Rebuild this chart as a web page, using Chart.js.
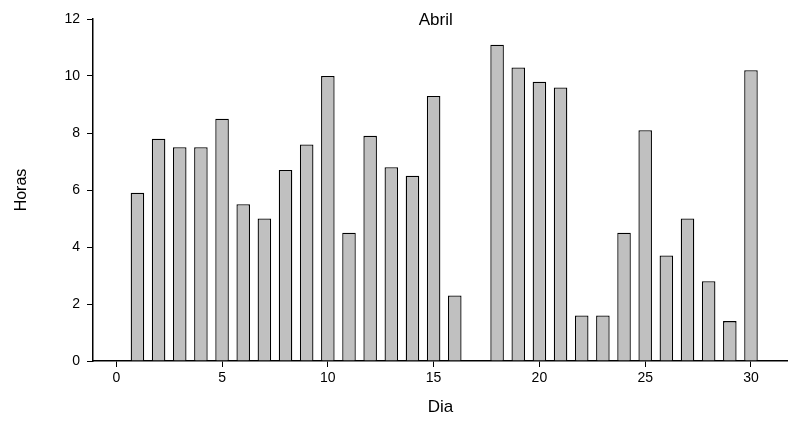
<!DOCTYPE html>
<html>
<head>
<meta charset="utf-8">
<script src="https://cdn.jsdelivr.net/npm/chart.js@4/dist/chart.umd.min.js"></script>
<style>
    html, body { margin: 0; padding: 0; background: #fff; }
    #wrap { width: 788px; height: 421px; }
</style>
</head>
<body>
<div id="wrap"><canvas id="canvas_abril"></canvas></div>
<script>
// horas por dia, abril (o dia 17 nao tem registo)
const dias = [1, 2, 3, 4, 5, 6, 7, 8, 9, 10, 11, 12, 13, 14, 15, 16,
    18, 19, 20, 21, 22, 23, 24, 25, 26, 27, 28, 29, 30];
const horas = [5.9, 7.8, 7.5, 7.5, 8.5, 5.5, 5.0, 6.7, 7.6, 10.0, 4.5, 7.9, 6.8, 6.5, 9.3, 2.3,
    11.1, 10.3, 9.8, 9.6, 1.6, 1.6, 4.5, 8.1, 3.7, 5.0, 2.8, 1.4, 10.2];
const xTicks = [0, 5, 10, 15, 20, 25, 30];
const yTicks = [0, 2, 4, 6, 8, 10, 12];

const font = "'Liberation Sans', Arial, sans-serif";

// titulo dentro da area do grafico, por cima do dia 15
const titlePlugin = {
    id: 'titleInside',
    afterDraw(chart) {
        const ctx = chart.ctx;
        const area = chart.chartArea;
        const x = chart.scales.x.getPixelForValue(15.1);
        ctx.save();
        ctx.fillStyle = '#000';
        ctx.font = '17px ' + font;
        ctx.textAlign = 'center';
        ctx.textBaseline = 'middle';
        ctx.fillText('Abril', x, area.top + 1);
        ctx.restore();
    }
};

const ctx = document.getElementById('canvas_abril');
new Chart(ctx, {
    type: 'bar',
    data: {
        datasets: [{
            data: dias.map((d, i) => ({x: d, y: horas[i]})),
            backgroundColor: '#c0c0c0',
            borderColor: '#000',
            borderWidth: 1.3,
            barPercentage: 0.64,
            categoryPercentage: 1
        }]
    },
    options: {
        responsive: true,
        maintainAspectRatio: false,
        animation: false,
        layout: {padding: {top: 19, right: 0, left: 0, bottom: 0}},
        plugins: {legend: {display: false}, tooltip: {enabled: false}},
        scales: {
            x: {
                type: 'linear',
                offset: false,
                min: -1.1,
                max: 31.75,
                afterBuildTicks: (s) => { s.ticks = xTicks.map(v => ({value: v})); },
                afterFit: (s) => { s.height = 60; },
                grid: {display: true, offset: false, drawOnChartArea: false, tickLength: 6, color: '#000', lineWidth: 1},
                border: {display: true, color: '#000', width: 1.5},
                ticks: {color: '#000', font: {family: font, size: 14}, padding: 3, maxRotation: 0},
                title: {display: true, text: 'Dia', color: '#000', font: {family: font, size: 17},
                    padding: {top: 4, bottom: 3}}
            },
            y: {
                min: 0,
                max: 12,
                afterBuildTicks: (s) => { s.ticks = yTicks.map(v => ({value: v})); },
                afterFit: (s) => { s.width = 93; },
                grid: {display: true, drawOnChartArea: false, tickLength: 6, color: '#000', lineWidth: 1},
                border: {display: true, color: '#000', width: 1.5},
                ticks: {color: '#000', font: {family: font, size: 14}, padding: 7},
                title: {display: true, text: 'Horas', color: '#000', font: {family: font, size: 16},
                    padding: {top: 12, bottom: 4}}
            }
        }
    },
    plugins: [titlePlugin]
});
</script>
</body>
</html>
